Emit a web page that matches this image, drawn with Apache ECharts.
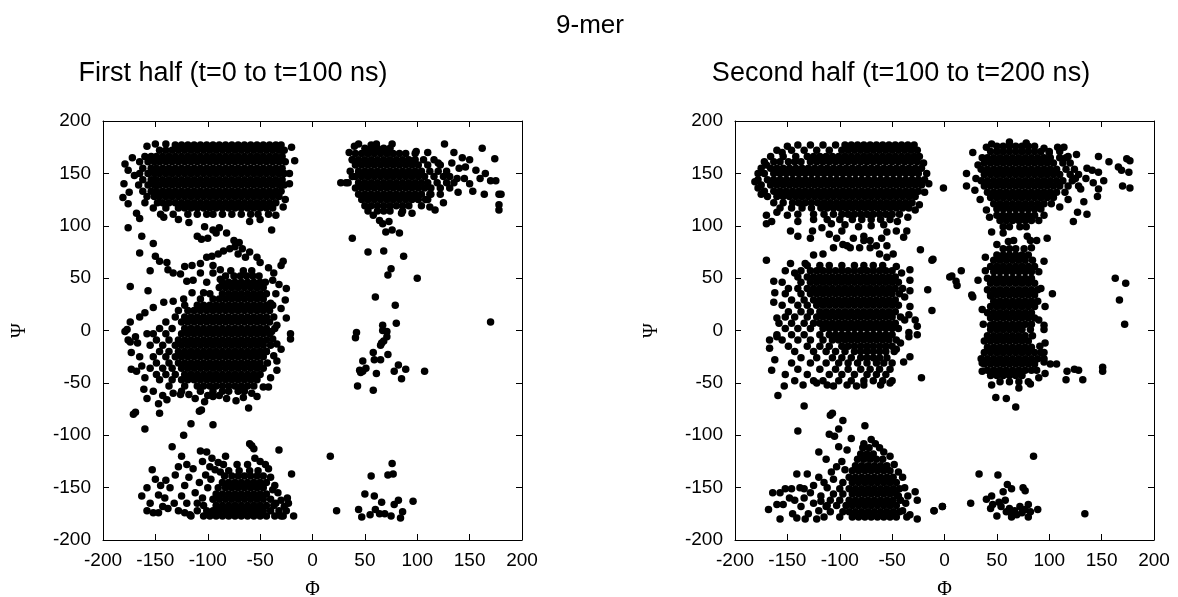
<!DOCTYPE html>
<html>
<head>
<meta charset="utf-8">
<script src="https://cdn.jsdelivr.net/npm/echarts@6/dist/echarts.min.js"></script>
<style>html,body{margin:0;padding:0;background:#fff}#c{width:1178px;height:597px}</style>
</head>
<body>
<div id="c"></div>
<script>
// ---------- data (phi, psi) ----------
const tickValues = [-200,-150,-100,-50,0,50,100,150,200];

// LEFT panel: first half
const leftBetaRows = [
[177,[-131,-125,-119,-113,-107,-101,-95,-89,-83,-77,-71,-65,-59,-53,-47,-41,-35,-30]],
[172,[-146,-140,-134,-128,-122,-116,-110,-104,-98,-92,-86,-80,-74,-68,-62,-56,-50,-44,-38,-32,-27]],
[166,[-160,-154,-149,-143,-137,-131,-125,-119,-113,-107,-101,-95,-89,-83,-77,-71,-65,-59,-53,-47,-41,-35,-29]],
[161,[-165,-157,-151,-146,-140,-134,-128,-122,-116,-110,-104,-98,-92,-86,-80,-74,-68,-62,-56,-50,-44,-38,-32,-26]],
[155,[-162,-154,-149,-143,-137,-131,-125,-119,-113,-107,-101,-95,-89,-83,-77,-71,-65,-59,-53,-47,-41,-35,-29]],
[150,[-165,-157,-151,-146,-140,-134,-128,-122,-116,-110,-104,-98,-92,-86,-80,-74,-68,-62,-56,-50,-44,-38,-32,-27]],
[144,[-162,-154,-149,-143,-137,-131,-125,-119,-113,-107,-101,-95,-89,-83,-77,-71,-65,-59,-53,-47,-41,-35,-29]],
[139,[-166,-157,-151,-146,-140,-134,-128,-122,-116,-110,-104,-98,-92,-86,-80,-74,-68,-62,-56,-50,-44,-38,-32,-27]],
[133,[-162,-154,-149,-143,-137,-131,-125,-119,-113,-107,-101,-95,-89,-83,-77,-71,-65,-59,-53,-47,-41,-35,-30]],
[128,[-158,-151,-146,-140,-134,-128,-122,-116,-110,-104,-98,-92,-86,-80,-74,-68,-62,-56,-50,-44,-38,-32]],
[122,[-160,-148,-143,-137,-131,-125,-119,-113,-107,-101,-95,-89,-83,-77,-71,-65,-59,-53,-47,-41,-35]],
[117,[-152,-140,-128,-122,-116,-110,-104,-98,-92,-86,-80,-74,-68,-62,-56,-50,-44,-38]],
[111,[-145,-133,-119,-110,-101,-95,-86,-77,-68,-59,-52,-42]]
];
const leftBetaScatter = [[-179,159],[-176,153],[-180,140],[-181,127],[-176,121],[-172,165],[-170,148],[-175,132],[-168,112],[-165,107],[-163,90],[-152,83],[-165,74],[-142,108],[-176,98],[-20,175],[-17,162],[-22,150],[-22,140],[-26,125],[-28,118],[-35,110],[-39,96],[-110,90],[-106,87],[-100,88],[-95,96],[-89,98],[-82,93],[-75,86],[-70,84],[-67,78],[-74,80],[-92,93],[-103,99],[-118,103],[-128,106],[-60,104],[-50,106],[-158,176],[-150,178],[-140,178]];
const leftMidScatter = [[-150,71],[-146,66],[-139,65],[-138,58],[-133,55],[-126,54],[-122,61],[-120,47],[-115,62],[-114,48],[-107,64],[-101,70],[-96,71],[-90,73],[-85,76],[-79,78],[-71,73],[-64,70],[-60,75],[-53,70],[-50,65],[-42,60],[-37,55],[-28,66],[-30,62],[-32,44],[-25,40],[-26,29],[-30,21],[-25,12],[-21,-3],[-107,55],[-101,46],[-95,55],[-88,49],[-104,36],[-115,36],[-123,30],[-133,28],[-142,27],[-152,22],[-160,17],[-165,13],[-174,8],[-177,1],[-174,-11],[-158,-3],[-155,57],[-174,42],[-157,38],[-95,62],[-88,58],[-38,48],[-35,35],[-40,26],[-34,5]];
const leftAlphaRows = [
[57,[-78,-66,-58]],
[52,[-83,-75,-69,-63,-57,-51]],
[46,[-86,-80,-74,-68,-62,-56,-50,-45]],
[41,[-89,-83,-77,-71,-65,-59,-53,-47]],
[35,[-98,-86,-80,-74,-68,-62,-56,-50,-44]],
[30,[-107,-95,-89,-83,-77,-71,-65,-59,-53,-47]],
[24,[-122,-110,-104,-98,-92,-86,-80,-74,-68,-62,-56,-50,-44,-38]],
[19,[-128,-119,-113,-107,-101,-95,-89,-83,-77,-71,-65,-59,-53,-47,-41]],
[13,[-131,-122,-116,-110,-104,-98,-92,-86,-80,-74,-68,-62,-56,-50,-44,-37]],
[8,[-140,-125,-119,-113,-107,-101,-95,-89,-83,-77,-71,-65,-59,-53,-47,-41]],
[2,[-146,-134,-122,-116,-110,-104,-98,-92,-86,-80,-74,-68,-62,-56,-50,-44,-36]],
[-3,[-152,-140,-125,-119,-113,-107,-101,-95,-89,-83,-77,-71,-65,-59,-53,-47,-41]],
[-9,[-149,-137,-128,-122,-116,-110,-104,-98,-92,-86,-80,-74,-68,-62,-56,-50,-44]],
[-14,[-155,-143,-131,-125,-119,-113,-107,-101,-95,-89,-83,-77,-71,-65,-59,-53,-47,-40]],
[-20,[-146,-137,-128,-122,-116,-110,-104,-98,-92,-86,-80,-74,-68,-62,-56,-50,-44]],
[-25,[-152,-140,-131,-125,-119,-113,-107,-101,-95,-89,-83,-77,-71,-65,-59,-53,-47]],
[-31,[-149,-137,-128,-122,-116,-110,-104,-98,-92,-86,-80,-74,-68,-62,-56,-50,-43]],
[-36,[-155,-143,-134,-125,-119,-113,-107,-101,-95,-89,-83,-77,-71,-65,-59,-53,-47]],
[-42,[-149,-140,-131,-122,-116,-110,-104,-98,-92,-86,-80,-74,-68,-62,-56,-50]],
[-47,[-146,-134,-125,-119,-113,-107,-101,-95,-89,-83,-77,-71,-65,-59,-53]],
[-53,[-137,-122,-110,-104,-98,-92,-86,-80,-74,-68,-62,-56]],
[-58,[-125,-107,-95,-86,-80,-71,-65]]
];
const leftAlphaScatter = [[-179,-1],[-176,-9],[-169,-6],[-173,-21],[-173,-37],[-168,-39],[-163,-34],[-161,-56],[-158,-65],[-169,-78],[-171,-80],[-160,-94],[-147,-70],[-146,-79],[-139,-66],[-126,-61],[-118,-61],[-108,-77],[-106,-76],[-116,-89],[-123,-100],[-95,-90],[-103,-68],[-95,-63],[-82,-65],[-73,-67],[-61,-74],[-53,-63],[-42,-54],[-34,-38],[-34,-29],[-34,-13],[-21,-8],[-39,-1],[-44,-20],[-47,-54],[-165,-25],[-160,-45],[-152,-58],[-143,-62],[-133,-60],[-112,-65],[-100,-62],[-89,-62],[-66,-64],[-58,-60],[-40,-45],[-37,-24],[-30,-18],[-38,-8],[-167,-12]];
const leftBottomRows = [
[-128,[-72,-62]],
[-134,[-80,-70,-60,-52]],
[-139,[-84,-77,-71,-65,-59,-53,-47]],
[-145,[-86,-80,-74,-68,-62,-56,-50,-44]],
[-150,[-90,-83,-77,-71,-65,-59,-53,-47]],
[-156,[-92,-86,-80,-74,-68,-62,-56,-50,-44]],
[-161,[-95,-89,-83,-77,-71,-65,-59,-53,-47,-40]],
[-167,[-104,-92,-86,-80,-74,-68,-62,-56,-50,-44,-37]],
[-172,[-110,-101,-95,-89,-83,-77,-71,-65,-59,-53,-47,-40,-32]],
[-177,[-116,-104,-98,-92,-86,-80,-74,-68,-62,-56,-50,-44,-36,-30]]
];
const leftBottomScatter = [[-107,-115],[-101,-116],[-60,-108],[-56,-113],[-58,-110],[-32,-114],[-83,-120],[-125,-120],[-134,-111],[-153,-133],[-158,-150],[-163,-158],[-158,-172],[-152,-174],[-147,-174],[-20,-137],[-18,-177],[-150,-142],[-145,-148],[-140,-143],[-147,-157],[-141,-160],[-136,-150],[-131,-138],[-128,-130],[-132,-165],[-138,-170],[-128,-172],[-125,-158],[-122,-148],[-118,-140],[-120,-165],[-114,-132],[-112,-155],[-108,-145],[-105,-125],[-102,-138],[-98,-130],[-100,-150],[-96,-122],[-93,-133],[-90,-126],[-85,-128],[-117,-176],[-122,-174],[-110,-165],[-105,-160],[-97,-142],[-143,-168],[-155,-165],[-120,-128],[-88,-135],[-40,-140],[-36,-148],[-33,-155],[-30,-162],[-27,-168],[-25,-172],[-28,-177],[-35,-165],[-42,-132],[-50,-125],[-55,-122],[-45,-128],[-38,-152],[-23,-165],[-24,-160]];
const leftTopRightRows = [
[174,[50,56,62,68,74]],
[169,[41,47,53,59,65,71,77,83,89,98]],
[163,[38,44,50,56,62,68,74,80,86,92,98,106,116]],
[158,[41,47,53,59,65,71,77,83,89,95,101,110,122]],
[152,[36,44,50,56,62,68,74,80,86,92,98,104,112,120,128]],
[147,[38,41,47,53,59,65,71,77,83,89,95,101,107,116,125,131]],
[141,[34,44,50,56,62,68,74,80,86,92,98,104,110,119,128,135]],
[136,[41,47,53,59,65,71,77,83,89,95,101,107,113,122,131]],
[130,[44,50,56,62,68,74,80,86,92,98,104,112,122]],
[125,[47,53,59,65,71,77,83,89,95,101,110]],
[119,[50,56,62,68,74,80,86,92,104]],
[114,[53,62,68,74,86]]
];
const leftTopRightScatter = [[27,141],[32,141],[38,163],[35,170],[40,176],[44,178],[56,177],[61,178],[76,178],[99,171],[126,178],[64,105],[67,102],[70,94],[76,96],[83,93],[73,104],[58,110],[85,112],[95,112],[117,115],[112,118],[146,156],[150,163],[156,153],[162,174],[174,164],[175,143],[170,143],[164,130],[178,130],[180,130],[178,120],[178,115],[153,133],[139,132],[150,140],[145,145],[160,145],[165,150],[140,155],[143,165],[135,170],[133,160],[138,145],[110,170],[120,160],[113,130],[125,122],[108,125]];
const leftLowRightScatter = [[38,88],[53,75],[68,76],[87,71],[75,59],[72,53],[100,50],[60,32],[79,24],[67,5],[80,7],[71,-1],[42,-2],[170,8],[67,0],[41,-7],[71,-6],[68,-10],[65,-14],[66,-12],[58,-21],[72,-23],[59,-28],[65,-28],[48,-29],[45,-38],[48,-39],[51,-36],[46,-40],[61,-41],[82,-33],[78,-39],[89,-37],[85,-46],[107,-39],[43,-53],[58,-57],[17,-120],[76,-127],[56,-139],[72,-138],[77,-137],[50,-156],[59,-158],[66,-164],[78,-166],[82,-162],[96,-163],[23,-172],[44,-171],[47,-178],[55,-176],[60,-171],[64,-175],[69,-175],[75,-177],[84,-179],[86,-173]];

// RIGHT panel: second half
const rightBetaRows = [
[177,[-128,-116,-104,-95,-89,-83,-77,-71,-65,-59,-53,-47,-41,-35,-29]],
[172,[-160,-146,-134,-122,-110,-98,-92,-86,-80,-74,-68,-62,-56,-50,-44,-38,-32,-26]],
[166,[-166,-154,-142,-131,-125,-119,-113,-107,-101,-95,-89,-83,-77,-71,-65,-59,-53,-47,-41,-35,-29,-24]],
[161,[-172,-163,-157,-149,-143,-137,-128,-122,-116,-110,-104,-98,-92,-86,-80,-74,-68,-62,-56,-50,-44,-38,-32,-26]],
[155,[-175,-166,-160,-154,-148,-142,-136,-130,-124,-118,-112,-106,-100,-94,-88,-82,-76,-70,-64,-58,-52,-46,-40,-34,-28,-22]],
[150,[-172,-163,-157,-151,-145,-139,-133,-127,-121,-115,-109,-103,-97,-91,-85,-79,-73,-67,-61,-55,-49,-43,-37,-31,-25]],
[144,[-178,-169,-163,-157,-151,-145,-139,-133,-127,-121,-115,-109,-103,-97,-91,-85,-79,-73,-67,-61,-55,-49,-43,-37,-31,-25,-19]],
[139,[-175,-166,-160,-154,-148,-142,-136,-130,-124,-118,-112,-106,-100,-94,-88,-82,-76,-70,-64,-58,-52,-46,-40,-34,-28,-22]],
[133,[-172,-163,-157,-151,-145,-139,-133,-127,-121,-115,-109,-103,-97,-91,-85,-79,-73,-67,-61,-55,-49,-43,-37,-31,-25]],
[128,[-169,-160,-154,-148,-142,-136,-130,-124,-118,-112,-106,-100,-94,-88,-82,-76,-70,-64,-58,-52,-46,-40,-34,-28]],
[122,[-163,-154,-145,-139,-133,-127,-121,-115,-109,-103,-97,-91,-85,-79,-73,-67,-61,-55,-49,-43,-37,-31]],
[117,[-157,-146,-136,-127,-118,-112,-106,-100,-94,-88,-82,-76,-70,-64,-58,-52,-46,-40,-34]],
[111,[-140,-125,-115,-106,-98,-92,-86,-80,-74,-68,-62,-56,-50,-43]],
[106,[-112,-100,-88,-79,-70,-61,-52]]
];
const rightBetaScatter = [[-181,142],[-178,136],[-175,130],[-170,110],[-165,104],[-178,150],[-170,158],[-150,176],[-140,177],[-155,170],[-1,136],[-20,160],[-17,150],[-15,140],[-19,132],[-24,120],[-28,115],[-35,108],[-45,104],[-58,101],[-70,100],[-82,99],[-95,101],[-108,102],[-125,106],[-140,104],[-150,110],[-160,113],[-170,102],[-140,90],[-147,95],[-128,88],[-126,95],[-103,88],[-93,81],[-81,79],[-71,86],[-65,81],[-55,81],[-55,94],[-46,95],[-39,89],[-23,77],[-36,95],[-110,92],[-87,88],[-77,90],[-60,88],[-98,95],[-117,98]];
const rightAlphaRows = [
[62,[-131,-119,-110,-98,-86,-77,-68,-59]],
[57,[-137,-128,-122,-116,-110,-104,-98,-92,-86,-80,-74,-68,-62,-56,-50]],
[51,[-140,-131,-125,-119,-113,-107,-101,-95,-89,-83,-77,-71,-65,-59,-53,-47]],
[46,[-155,-137,-128,-122,-116,-110,-104,-98,-92,-86,-80,-74,-68,-62,-56,-50,-44]],
[40,[-149,-140,-131,-125,-119,-113,-107,-101,-95,-89,-83,-77,-71,-65,-59,-53,-47]],
[35,[-152,-137,-128,-122,-116,-110,-104,-98,-92,-86,-80,-74,-68,-62,-56,-50,-43]],
[29,[-146,-134,-125,-119,-113,-107,-101,-95,-89,-83,-77,-71,-65,-59,-53,-47]],
[24,[-155,-140,-131,-122,-116,-110,-104,-98,-92,-86,-80,-74,-68,-62,-56,-50,-44]],
[18,[-149,-137,-128,-119,-113,-107,-101,-95,-89,-83,-77,-71,-65,-59,-53,-47]],
[13,[-152,-143,-131,-122,-116,-110,-104,-98,-92,-86,-80,-74,-68,-62,-56,-50,-42]],
[7,[-158,-146,-134,-125,-119,-113,-107,-101,-95,-89,-83,-77,-71,-65,-59,-53,-47]],
[2,[-152,-140,-128,-116,-110,-104,-98,-92,-86,-80,-74,-68,-62,-56,-50,-44]],
[-4,[-160,-146,-134,-119,-110,-104,-98,-92,-86,-80,-74,-68,-62,-56,-50]],
[-9,[-155,-140,-128,-116,-107,-101,-95,-89,-83,-77,-71,-65,-59,-53,-46]],
[-15,[-149,-131,-119,-110,-98,-92,-86,-80,-74,-68,-62,-56,-50]],
[-20,[-143,-125,-113,-104,-95,-86,-80,-74,-68,-62,-56,-48]],
[-26,[-137,-122,-107,-98,-89,-80,-74,-68,-62,-55]],
[-31,[-146,-128,-113,-101,-92,-83,-74,-65,-58,-50]],
[-37,[-140,-119,-104,-92,-80,-71,-62,-52]],
[-42,[-152,-131,-110,-98,-86,-74,-65,-56]],
[-48,[-143,-125,-116,-101,-89,-77,-68,-59,-50]]
];
const rightAlphaScatter = [[-170,67],[-163,47],[-162,36],[-163,27],[-160,12],[-152,57],[-147,64],[-143,55],[-133,64],[-125,72],[-116,73],[-106,79],[-97,82],[-90,79],[-77,86],[-71,79],[-62,73],[-55,70],[-49,73],[-46,61],[-41,55],[-33,58],[-33,48],[-33,38],[-38,32],[-33,23],[-28,10],[-26,4],[-34,-2],[-34,15],[-12,67],[-16,39],[-12,19],[5,51],[-167,-9],[-167,-17],[-160,-6],[-162,-28],[-165,-38],[-153,-53],[-159,-62],[-134,-72],[-22,-45],[-39,-30],[-33,-25],[-46,-18],[-34,-6],[-26,-4],[-135,-52],[-122,-50],[-112,-52],[-106,-53],[-93,-52],[-84,-53],[-77,-52],[-61,-52],[-52,-50],[-40,40],[-38,10],[-42,-12]];
const rightBottomRows = [
[-112,[-78,-72]],
[-118,[-80,-74,-68]],
[-123,[-83,-77,-71,-65,-59]],
[-129,[-85,-79,-73,-67,-61,-55]],
[-134,[-88,-82,-76,-70,-64,-58,-52]],
[-140,[-91,-85,-79,-73,-67,-61,-55,-49]],
[-145,[-97,-88,-82,-76,-70,-64,-58,-52,-46]],
[-151,[-100,-91,-85,-79,-73,-67,-61,-55,-49,-43]],
[-156,[-106,-97,-88,-82,-76,-70,-64,-58,-52,-46]],
[-162,[-109,-100,-91,-85,-79,-73,-67,-61,-55,-49,-42]],
[-167,[-112,-103,-94,-88,-82,-76,-70,-64,-58,-52,-46]],
[-173,[-109,-97,-91,-85,-79,-73,-67,-61,-55,-49,-43]],
[-178,[-100,-88,-82,-76,-70,-64,-58,-52,-46]]
];
const rightBottomScatter = [[-109,-81],[-107,-79],[-97,-86],[-101,-94],[-140,-96],[-110,-99],[-105,-101],[-89,-103],[-76,-91],[-101,-111],[-93,-114],[-120,-116],[-113,-123],[-77,-108],[-168,-171],[-164,-155],[-157,-155],[-152,-151],[-146,-151],[-138,-150],[-134,-151],[-160,-166],[-154,-166],[-157,-180],[-141,-179],[-133,-180],[-141,-137],[-131,-137],[-10,-172],[-2,-168],[-26,-180],[-28,-154],[-26,-162],[-33,-176],[-128,-155],[-125,-148],[-120,-140],[-118,-158],[-115,-145],[-113,-168],[-120,-172],[-125,-165],[-130,-175],[-112,-150],[-106,-142],[-103,-130],[-98,-125],[-95,-133],[-108,-135],[-115,-178],[-122,-180],[-118,-163],[-137,-168],[-145,-175],[-134,-160],[-143,-162],[-148,-160],[-40,-140],[-38,-150],[-35,-158],[-37,-165],[-40,-172],[-36,-178],[-44,-135],[-48,-128],[-52,-120],[-58,-116],[-62,-112],[-66,-108],[-70,-104],[-44,-158]];
const rightTopRightRows = [
[176,[50,56,62,68,74,80,86]],
[171,[44,50,56,62,68,74,80,86,92,100,110]],
[165,[41,47,53,59,65,71,77,83,89,95,101,110,116]],
[160,[38,44,50,56,62,68,74,80,86,92,98,104,113,120]],
[154,[35,41,47,53,59,65,71,77,83,89,95,101,107,116,124]],
[149,[38,44,50,56,62,68,74,80,86,92,98,104,110,120,128]],
[143,[35,41,47,53,59,65,71,77,83,89,95,101,107,113,122]],
[138,[38,44,50,56,62,68,74,80,86,92,98,104,110,118,128]],
[132,[41,47,53,59,65,71,77,83,89,95,101,107,115]],
[127,[44,50,56,62,68,74,80,86,92,98,104]],
[121,[47,53,59,65,71,77,83,89,95,102]],
[116,[50,56,62,68,74,80,86,92]],
[110,[50,56,62,68,74,80,86]],
[105,[53,59,65,71,77,83]],
[99,[56,62,72,78]]
];
const rightTopRightScatter = [[27,170],[21,150],[21,138],[29,134],[34,125],[30,145],[32,158],[36,165],[40,175],[45,178],[62,180],[78,179],[95,174],[100,170],[45,94],[56,93],[79,90],[98,88],[123,104],[136,111],[127,113],[133,123],[146,128],[147,135],[152,143],[142,141],[147,151],[147,166],[157,161],[166,156],[169,153],[176,151],[177,162],[174,164],[170,138],[177,136],[136,155],[141,153],[126,168],[118,166],[114,175],[108,175],[130,135],[125,145],[135,145],[118,125],[110,118],[95,110],[90,105],[40,115],[43,108]];
const rightMidRows = [
[78,[56,62,68,76]],
[72,[50,56,62,68,74,80]],
[67,[47,53,59,65,71,77,84]],
[61,[44,50,56,62,68,74,80,86]],
[56,[47,53,59,65,71,77,83,90]],
[50,[41,47,53,59,65,71,77,83]],
[45,[44,50,56,62,68,74,80,86]],
[39,[41,47,53,59,65,71,77,83,89]],
[34,[44,50,56,62,68,74,80,86]],
[28,[47,53,59,65,71,77,83,89]],
[23,[44,50,56,62,68,74,80,86]],
[17,[41,47,53,59,65,71,77,83]],
[12,[44,50,56,62,68,74,80,86]],
[6,[47,53,59,65,71,77,83]],
[1,[44,50,56,62,68,74,82]],
[-5,[41,47,53,59,65,71,77,84]],
[-10,[44,50,56,62,68,74,80]],
[-16,[41,47,53,59,65,71,77,83]],
[-21,[38,44,50,56,62,68,74,80,86,92]],
[-27,[35,41,47,53,59,65,71,77,83,89,95]],
[-32,[38,44,50,56,62,68,74,80,86]],
[-38,[41,47,53,59,65,71,77,83]],
[-43,[44,50,56,62,68,74]],
[-49,[53,62,71,80]]
];
const rightMidScatter = [[61,85],[66,86],[82,86],[88,86],[83,79],[50,82],[39,70],[95,66],[32,48],[39,57],[26,34],[27,32],[44,33],[96,23],[103,35],[37,6],[44,5],[95,5],[95,1],[96,-12],[36,-31],[36,-39],[45,-52],[49,-64],[59,-65],[68,-73],[71,-55],[82,-51],[95,-21],[95,-30],[96,-41],[101,-32],[107,-32],[117,-39],[116,-47],[124,-37],[128,-38],[132,-47],[151,-35],[151,-39],[-11,68],[7,52],[11,47],[12,43],[16,57],[163,50],[173,45],[167,29],[172,6],[90,-45],[88,-38],[91,-15],[90,10],[92,40],[36,20],[38,-10]];
const rightLowScatter = [[85,-120],[33,-137],[51,-138],[60,-147],[64,-151],[75,-150],[77,-153],[56,-154],[45,-158],[40,-161],[25,-165],[-2,-168],[-10,-172],[52,-164],[54,-168],[58,-162],[59,-173],[64,-175],[67,-172],[72,-168],[74,-174],[80,-166],[82,-173],[89,-171],[50,-177],[64,-178],[80,-178],[134,-175],[46,-166],[44,-170],[62,-170],[69,-176],[77,-171]];

// ---------- assemble ----------
function rowsToPoints(rows){ return rows.flatMap(r => r[1].map(x => [x, r[0]])); }
const leftPoints = [].concat(
  rowsToPoints(leftBetaRows), leftBetaScatter, leftMidScatter,
  rowsToPoints(leftAlphaRows), leftAlphaScatter,
  rowsToPoints(leftBottomRows), leftBottomScatter,
  rowsToPoints(leftTopRightRows), leftTopRightScatter, leftLowRightScatter);
const rightPoints = [].concat(
  rowsToPoints(rightBetaRows), rightBetaScatter,
  rowsToPoints(rightAlphaRows), rightAlphaScatter,
  rowsToPoints(rightBottomRows), rightBottomScatter,
  rowsToPoints(rightTopRightRows), rightTopRightScatter,
  rowsToPoints(rightMidRows), rightMidScatter, rightLowScatter);

const FONT = 'Liberation Sans, Arial, sans-serif';
const SERIF = 'Liberation Serif, DejaVu Serif, serif';
const GRIDS = [{left:103, top:121, width:419, height:419},{left:735, top:121, width:419, height:419}];

function xAx(g, pos, lab){
  return {type:'value', gridIndex:g, position:pos, min:-200, max:200, interval:50,
    axisLine:{show:true, onZero:false, lineStyle:{color:'#000', width:1}},
    axisTick:{show:true, inside:true, length:6, lineStyle:{color:'#000'}},
    axisLabel:{show:lab, color:'#000', fontSize:19, fontFamily:FONT, margin:11, showMinLabel:true, showMaxLabel:true},
    splitLine:{show:false}};
}
function yAx(g, pos, lab){
  return {type:'value', gridIndex:g, position:pos, min:-200, max:200, interval:50,
    axisLine:{show:true, onZero:false, lineStyle:{color:'#000', width:1}},
    axisTick:{show:true, inside:true, length:6, lineStyle:{color:'#000'}},
    axisLabel:{show:lab, color:'#000', fontSize:19, fontFamily:FONT, margin:12, showMinLabel:true, showMaxLabel:true},
    splitLine:{show:false}};
}

const chart = echarts.init(document.getElementById('c'), null, {renderer:'canvas'});
const txt = (t, x, y, size, fam, rot) => ({type:'text', x:x, y:y, rotation:rot||0,
  style:{text:t, fill:'#000', font: size + 'px ' + fam, textAlign:'center', textVerticalAlign:'middle'}});
const dotStyle = {color:'#000', opacity:1, borderWidth:0};
chart.setOption({
  animation:false,
  backgroundColor:'#fff',
  grid: GRIDS,
  xAxis:[xAx(0,'bottom',true), xAx(0,'top',false), xAx(1,'bottom',true), xAx(1,'top',false)],
  yAxis:[yAx(0,'left',true), yAx(0,'right',false), yAx(1,'left',true), yAx(1,'right',false)],
  series:[
    {type:'scatter', xAxisIndex:0, yAxisIndex:0, data:leftPoints, symbol:'circle', symbolSize:7.5, itemStyle:dotStyle, silent:true, large:false},
    {type:'scatter', xAxisIndex:2, yAxisIndex:2, data:rightPoints, symbol:'circle', symbolSize:7.5, itemStyle:dotStyle, silent:true, large:false}
  ],
  graphic:[
    txt('9-mer', 590, 26, 26, FONT),
    txt('First half (t=0 to t=100 ns)', 233, 74, 27, FONT),
    txt('Second half (t=100 to t=200 ns)', 901, 74, 27, FONT),
    txt('Φ', 312.5, 590, 20, SERIF),
    txt('Φ', 944.5, 590, 20, SERIF),
    txt('Ψ', 20, 330.5, 20, SERIF, Math.PI/2),
    txt('Ψ', 652, 330.5, 20, SERIF, Math.PI/2)
  ]
});
</script>
</body>
</html>
